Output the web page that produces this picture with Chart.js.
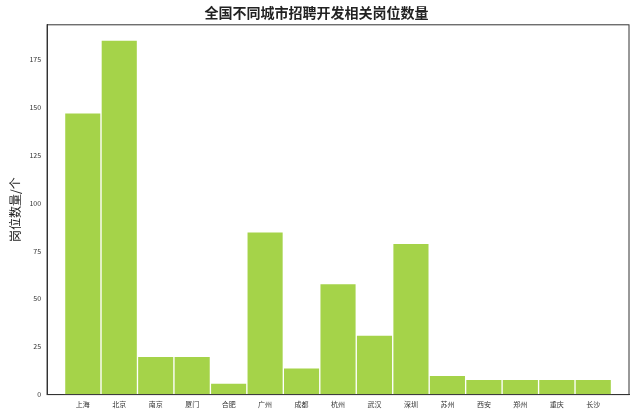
<!DOCTYPE html>
<html><head><meta charset="utf-8">
<script src="https://cdn.jsdelivr.net/npm/chart.js@4"></script>
<style>body{margin:0;background:#fff}canvas{display:block}</style>
</head><body>
<canvas id="c" width="640" height="412"></canvas>
<script>
const cities = ['上海','北京','南京','厦门','合肥','广州','成都','杭州','武汉','深圳','苏州','西安','郑州','重庆','长沙'];
const jobCounts = [147,185,20,20,6,85,14,58,31,79,10,8,8,8,8];
const yTicks = [0,25,50,75,100,125,150,175];

const font = "'Noto Sans CJK SC', 'DejaVu Sans', sans-serif";
new Chart(document.getElementById('c'), {
  type: 'bar',
  data: {
    datasets: [{
      data: jobCounts.map((v, i) => ({ x: i, y: v })),
      backgroundColor: '#a5d349',
      borderColor: '#ffffff',
      borderWidth: 1,
      borderSkipped: false,
      barPercentage: 1,
      categoryPercentage: 1,
    }],
  },
  options: {
    responsive: false,
    animation: false,
    layout: { padding: { left: 4, right: 11, top: 2, bottom: 0 } },
    plugins: {
      legend: { display: false },
      tooltip: { enabled: false },
      title: { display: true, text: '全国不同城市招聘开发相关岗位数量', color: '#222',
        font: { family: font, size: 14, weight: 'bold' }, padding: { top: 2, bottom: 4 } },
    },
    scales: {
      x: {
        type: 'linear', min: -0.98, max: 14.98, offset: false,
        afterBuildTicks: a => { a.ticks = cities.map((_, i) => ({ value: i })); },
        ticks: { callback: v => cities[v] ?? '', color: '#333', font: { family: font, size: 7 }, maxRotation: 0, autoSkip: false },
        grid: { display: false, drawTicks: true, tickLength: 3, color: '#333' },
        border: { color: '#333' },
      },
      y: {
        min: 0, max: 193,
        afterBuildTicks: a => { a.ticks = yTicks.map(v => ({ value: v })); },
        ticks: { color: '#333', font: { family: font, size: 7 } },
        grid: { display: false, tickLength: 3, color: '#333' },
        border: { color: '#333' },
        title: { display: true, text: '岗位数量/个', color: '#222', font: { family: font, size: 12 } },
      },
    },
  },
  plugins: [{
    id: 'frame',
    afterDraw(ch) {
      const { ctx, chartArea: a } = ch;
      ctx.save(); ctx.strokeStyle = '#333'; ctx.lineWidth = 1;
      ctx.strokeRect(a.left, a.top, a.right - a.left, a.bottom - a.top);
      ctx.restore();
    },
  }],
});
</script>
</body></html>
